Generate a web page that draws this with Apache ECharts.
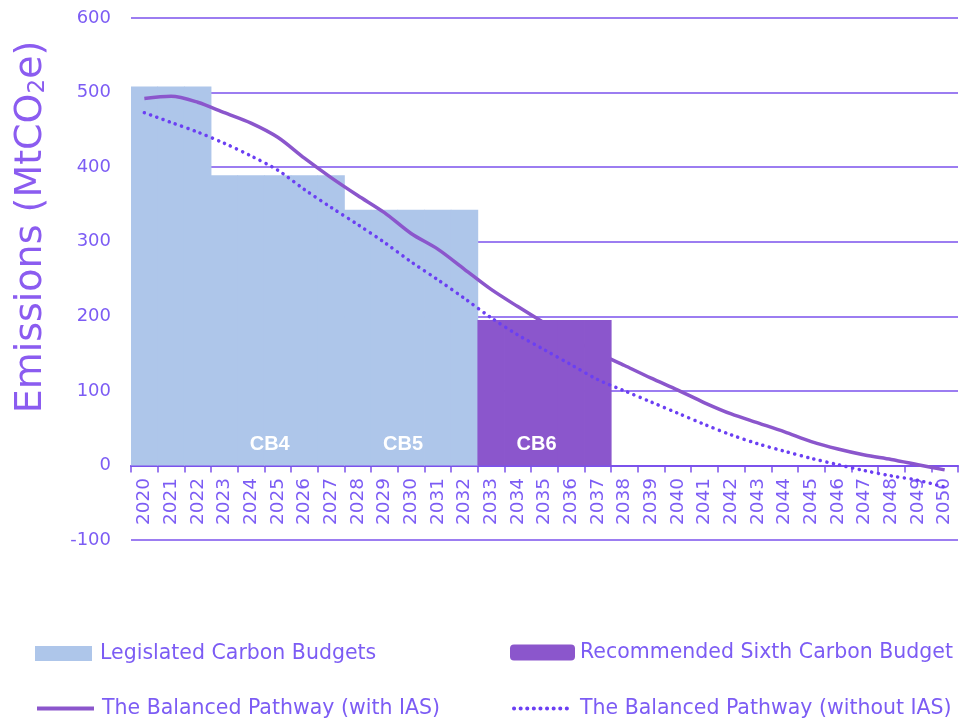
<!DOCTYPE html>
<html>
<head>
<meta charset="utf-8">
<script src="https://cdn.jsdelivr.net/npm/echarts@6/dist/echarts.min.js"></script>
<style>
html,body{margin:0;padding:0;background:#fff;}
#chart{width:962px;height:724px;}
</style>
</head>
<body>
<div id="chart"></div>
<script>
// ---- data ----
var years = ['2020','2021','2022','2023','2024','2025','2026','2027','2028','2029','2030',
  '2031','2032','2033','2034','2035','2036','2037','2038','2039','2040',
  '2041','2042','2043','2044','2045','2046','2047','2048','2049','2050'];
var legislatedBudgets = [508,508,508,389,389,389,389,389,343,343,343,343,343,
  null,null,null,null,null,null,null,null,null,null,null,null,null,null,null,null,null,null];
var sixthBudget = [null,null,null,null,null,null,null,null,null,null,null,null,null,
  195,195,195,195,195,null,null,null,null,null,null,null,null,null,null,null,null,null];
var withIAS = [492,495,487,473,459,440,412,386,362,339,311,290,263,236,213,191,171,151,
  134,117,101,84,69,57,45,32,22,14,8,1,-6];
var withoutIAS = [473,460,447,432,415,396,370,346,323,299,273,249,224,198,175,155,135,115,
  100,85,70,55,41,29,19,9.5,1,-7,-14,-20,-29];
var budgetNames = ['CB4','CB5','CB6'];
var budgetLabelYears = ['2025','2030','2035'];
var yTicks = [-100,0,100,200,300,400,500,600];

var TXT = '#7C5CF4';
var GRID = '#7B52EC';
var FONT = 'DejaVu Sans';

var chart = echarts.init(document.getElementById('chart'), null, {renderer:'canvas'});

function legendCfg(name, left, top, w, h, gap, icon, isLine){
  var cfg = {
    data:[name], left:left, top:top, itemWidth:w, itemHeight:h, itemGap:0, padding:0,
    textStyle:{color:TXT, fontSize:20.5, fontFamily:FONT, padding:[0,0,0,gap]},
    selectedMode:false
  };
  if (icon) { cfg.icon = icon; }
  if (isLine) { cfg.itemStyle = {opacity:0}; cfg.lineStyle = {width:4}; }
  return cfg;
}

var option = {
  animation:false,
  backgroundColor:'#fff',
  textStyle:{fontFamily:FONT},
  grid:{left:131, right:4, top:18, bottom:184, containLabel:false},
  xAxis:{
    type:'category', data:years, boundaryGap:true,
    axisLine:{onZero:true, lineStyle:{color:GRID, width:2}},
    axisTick:{show:true, length:7, lineStyle:{color:GRID, width:1.5}},
    axisLabel:{rotate:90, color:TXT, fontSize:18.5, fontFamily:FONT, margin:-62, interval:0},
    splitLine:{show:false}
  },
  yAxis:{
    type:'value', min:yTicks[0], max:yTicks[yTicks.length-1], interval:100,
    axisLine:{show:false}, axisTick:{show:false},
    axisLabel:{color:TXT, fontSize:18, fontFamily:FONT, margin:20},
    splitLine:{lineStyle:{color:GRID, width:1.5}}
  },
  legend:[
    legendCfg('Legislated Carbon Budgets', 35, 643, 57, 15, 3, 'rect', false),
    legendCfg('Recommended Sixth Carbon Budget', 510, 642, 65, 16, 0, null, false),
    legendCfg('The Balanced Pathway (with IAS)', 35, 698, 57, 16, 3, null, true),
    legendCfg('The Balanced Pathway (without IAS)', 512, 698, 54, 16, 7, null, true)
  ],
  graphic:[{
    type:'text', x:31, y:227, rotation:Math.PI/2,
    style:{
      text:'{a|Emissions (MtCO}{s|2}{a|e)}',
      align:'center', verticalAlign:'middle',
      rich:{
        a:{fontSize:38, fontFamily:FONT, fill:'#8B5CF0', color:'#8B5CF0'},
        s:{fontSize:23, fontFamily:FONT, fill:'#8B5CF0', color:'#8B5CF0', verticalAlign:'bottom'}
      },
      fill:'#8B5CF0'
    }
  }],
  series:[
    {
      name:'Legislated Carbon Budgets', type:'bar', data:legislatedBudgets,
      barWidth:'103%', barGap:'-100%', barCategoryGap:0,
      itemStyle:{color:'#AEC6EA'}, z:1
    },
    {
      name:'The Balanced Pathway (with IAS)', type:'line', data:withIAS,
      smooth:0.3, symbol:'none', z:2,
      lineStyle:{color:'#8B56CC', width:3.5},
      itemStyle:{color:'#8B56CC'}
    },
    {
      name:'Recommended Sixth Carbon Budget', type:'bar', data:sixthBudget,
      barWidth:'103%', barGap:'-100%', barCategoryGap:0,
      itemStyle:{color:'#8B56CC'}, z:3
    },
    {
      name:'The Balanced Pathway (without IAS)', type:'line', data:withoutIAS,
      smooth:0.3, symbol:'none', z:4,
      lineStyle:{color:'#6B3FF3', width:3.5, type:[0.1,6.5], cap:'round'},
      itemStyle:{color:'#6B3FF3'}
    },
    {
      name:'budget labels', type:'scatter', symbolSize:0, z:5,
      itemStyle:{opacity:1},
      data:budgetNames.map(function(n,i){ return {name:n, value:[budgetLabelYears[i], 28]}; }),
      label:{show:true, position:'inside', offset:[-8,0], formatter:'{b}', opacity:1,
        color:'#ffffff', fontSize:20, fontWeight:'bold', fontFamily:'Liberation Sans'},
      silent:true
    }
  ]
};
chart.setOption(option);
</script>
</body>
</html>
